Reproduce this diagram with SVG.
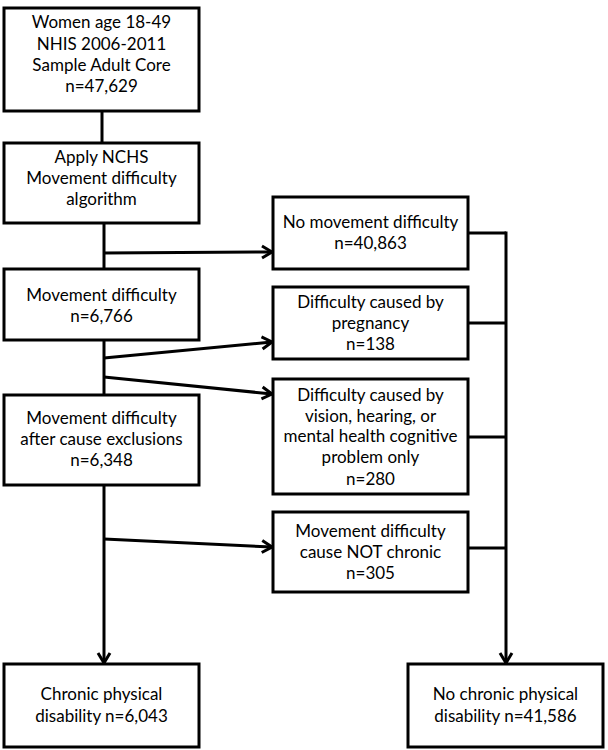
<svg xmlns="http://www.w3.org/2000/svg" width="608" height="750" viewBox="0 0 608 750">
<style>
.box rect{fill:#fff;stroke:#000;stroke-width:3}
.box text{font-family:Lato,"Liberation Sans",sans-serif;font-size:17px;fill:#000;text-anchor:middle}
#connectors line, #connectors path{stroke:#000;stroke-width:3;fill:none}
</style>
<defs>
<marker id="arr" markerUnits="userSpaceOnUse" markerWidth="14" markerHeight="16" viewBox="0 0 14 16" refX="12" refY="8" orient="auto">
<path d="M2,2 L12,8 L2,14" fill="none" stroke="#000" stroke-width="3"/>
</marker>
</defs>
<rect width="608" height="750" fill="#fff"/>
<g id="connectors">
<line x1="102" y1="111" x2="102" y2="143"/>
<line x1="104" y1="223" x2="104" y2="269"/>
<line x1="104" y1="253" x2="272" y2="252" marker-end="url(#arr)"/>
<line x1="104" y1="340" x2="104" y2="395"/>
<line x1="104" y1="358" x2="272" y2="342" marker-end="url(#arr)"/>
<line x1="104" y1="377" x2="272" y2="394" marker-end="url(#arr)"/>
<line x1="104" y1="485" x2="104" y2="663" marker-end="url(#arr)"/>
<line x1="104" y1="539" x2="272" y2="547" marker-end="url(#arr)"/>
<line x1="468" y1="233" x2="506" y2="233"/>
<line x1="468" y1="323" x2="506" y2="323"/>
<line x1="468" y1="437" x2="506" y2="437"/>
<line x1="468" y1="548" x2="506" y2="548"/>
<line x1="506" y1="231.5" x2="506" y2="663" marker-end="url(#arr)"/>
</g>
<g id="n1" class="box"><rect x="4" y="8" width="195" height="103"/>
<text x="101.5" y="28">Women age 18-49</text><text x="101.5" y="50">NHIS 2006-2011</text><text x="101.5" y="71">Sample Adult Core</text><text x="101.5" y="92">n=47,629</text></g>
<g id="n2" class="box"><rect x="4" y="143" width="195" height="80"/>
<text x="101.5" y="163">Apply NCHS</text><text x="101.5" y="184">Movement difficulty</text><text x="101.5" y="205">algorithm</text></g>
<g id="n3" class="box"><rect x="4" y="269" width="195" height="71"/>
<text x="101.5" y="301">Movement difficulty</text><text x="101.5" y="322">n=6,766</text></g>
<g id="n4" class="box"><rect x="4" y="395" width="195" height="90"/>
<text x="101.5" y="424">Movement difficulty</text><text x="101.5" y="445">after cause exclusions</text><text x="101.5" y="466">n=6,348</text></g>
<g id="n5" class="box"><rect x="4" y="664" width="195" height="83"/>
<text x="101.5" y="700">Chronic physical</text><text x="101.5" y="722">disability n=6,043</text></g>
<g id="r1" class="box"><rect x="273" y="197" width="195" height="72"/>
<text x="370.5" y="228">No movement difficulty</text><text x="370.5" y="249">n=40,863</text></g>
<g id="r2" class="box"><rect x="273" y="287" width="195" height="72"/>
<text x="370.5" y="308">Difficulty caused by</text><text x="370.5" y="329">pregnancy</text><text x="370.5" y="350">n=138</text></g>
<g id="r3" class="box"><rect x="273" y="379" width="195" height="115"/>
<text x="370.5" y="401">Difficulty caused by</text><text x="370.5" y="422">vision, hearing, or</text><text x="370.5" y="442">mental health cognitive</text><text x="370.5" y="463">problem only</text><text x="370.5" y="485">n=280</text></g>
<g id="r4" class="box"><rect x="273" y="512" width="195" height="80"/>
<text x="370.5" y="537">Movement difficulty</text><text x="370.5" y="558">cause NOT chronic</text><text x="370.5" y="579">n=305</text></g>
<g id="n6" class="box"><rect x="408" y="664" width="195" height="83"/>
<text x="505.5" y="700">No chronic physical</text><text x="505.5" y="722">disability n=41,586</text></g>
</svg>
